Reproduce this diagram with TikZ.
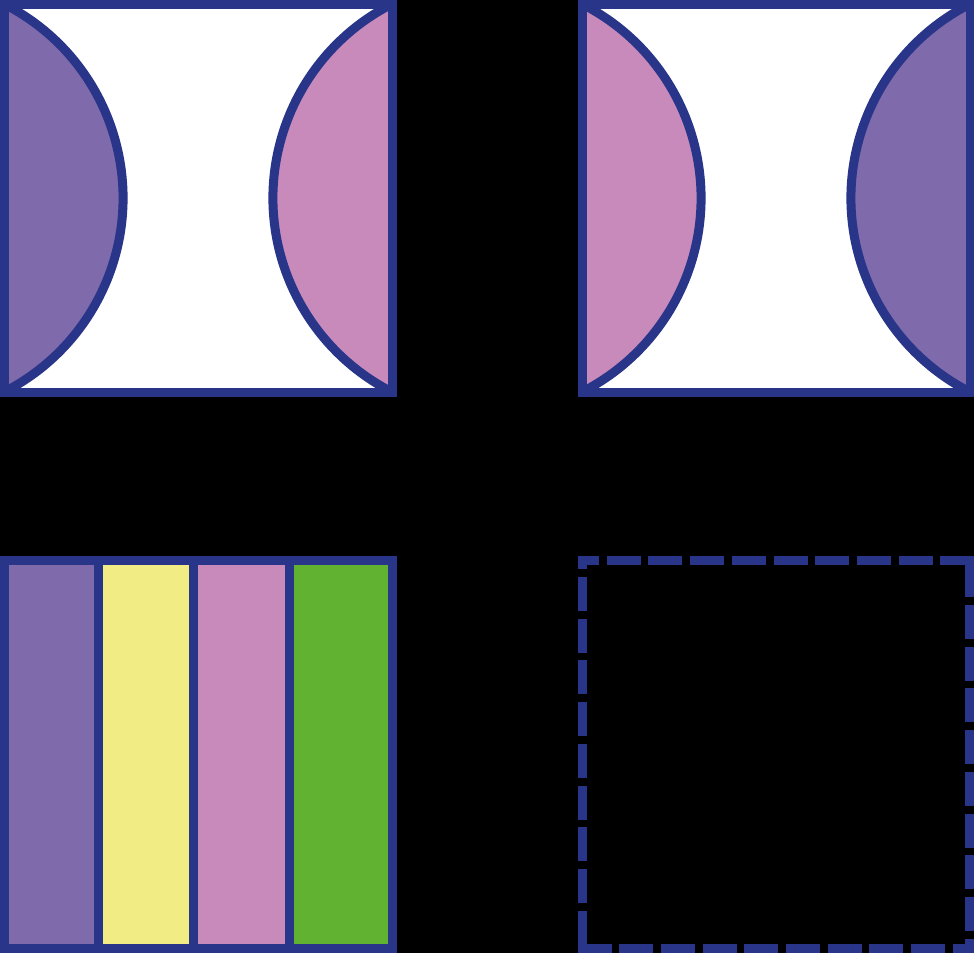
\documentclass[tikz,border=0pt]{standalone}
\definecolor{navy}{RGB}{40,53,136}
\definecolor{lpurple}{RGB}{127,106,172}
\definecolor{lpink}{RGB}{199,138,187}
\definecolor{lyellow}{RGB}{241,236,132}
\definecolor{lgreen}{RGB}{98,178,50}
\begin{document}
\begin{tikzpicture}[x=1pt,y=-1pt,
  outline/.style={draw=navy,line width=9pt},
  dashside/.style={draw=navy,line width=9pt,dash pattern=on 34pt off 7.7pt}]
\fill[black] (0,0) rectangle (974,953);
\useasboundingbox (0,0) rectangle (974,953);

% ---- top-left square
\fill[white] (4,4) rectangle (392,392);
\fill[lpurple] (4,4) arc[start angle=-63.07,end angle=63.07,radius=217.6] -- cycle;
\draw[outline] (4,4) arc[start angle=-63.07,end angle=63.07,radius=217.6];
\fill[lpink] (392,4) arc[start angle=243.07,end angle=116.93,radius=217.6] -- cycle;
\draw[outline] (392,4) arc[start angle=243.07,end angle=116.93,radius=217.6];
\draw[outline] (4,4) rectangle (392,392);

% ---- top-right square
\fill[white] (582,4) rectangle (970,392);
\fill[lpink] (582,4) arc[start angle=-63.07,end angle=63.07,radius=217.6] -- cycle;
\draw[outline] (582,4) arc[start angle=-63.07,end angle=63.07,radius=217.6];
\fill[lpurple] (970,4) arc[start angle=243.07,end angle=116.93,radius=217.6] -- cycle;
\draw[outline] (970,4) arc[start angle=243.07,end angle=116.93,radius=217.6];
\draw[outline] (582,4) rectangle (970,392);

% ---- bottom-left striped square
\fill[lpurple] (4,560.5) rectangle (98.5,948);
\fill[lyellow] (98.5,560.5) rectangle (193.5,948);
\fill[lpink] (193.5,560.5) rectangle (289.5,948);
\fill[lgreen] (289.5,560.5) rectangle (392,948);
\draw[outline] (98.5,560.5) -- (98.5,948);
\draw[outline] (193.5,560.5) -- (193.5,948);
\draw[outline] (289.5,560.5) -- (289.5,948);
\draw[outline] (4,560.5) rectangle (392,948);

% ---- bottom-right dashed square
\draw[dashside,dash phase=12.5pt] (577.5,560.5) -- (974.5,560.5);
\draw[dashside,dash phase=34.4pt] (969.5,556) -- (969.5,952.5);
\draw[dashside,dash phase=0pt] (577.5,948) -- (974.5,948);
\draw[dashside,dash phase=20.7pt] (582,556) -- (582,952.5);
\end{tikzpicture}
\end{document}
